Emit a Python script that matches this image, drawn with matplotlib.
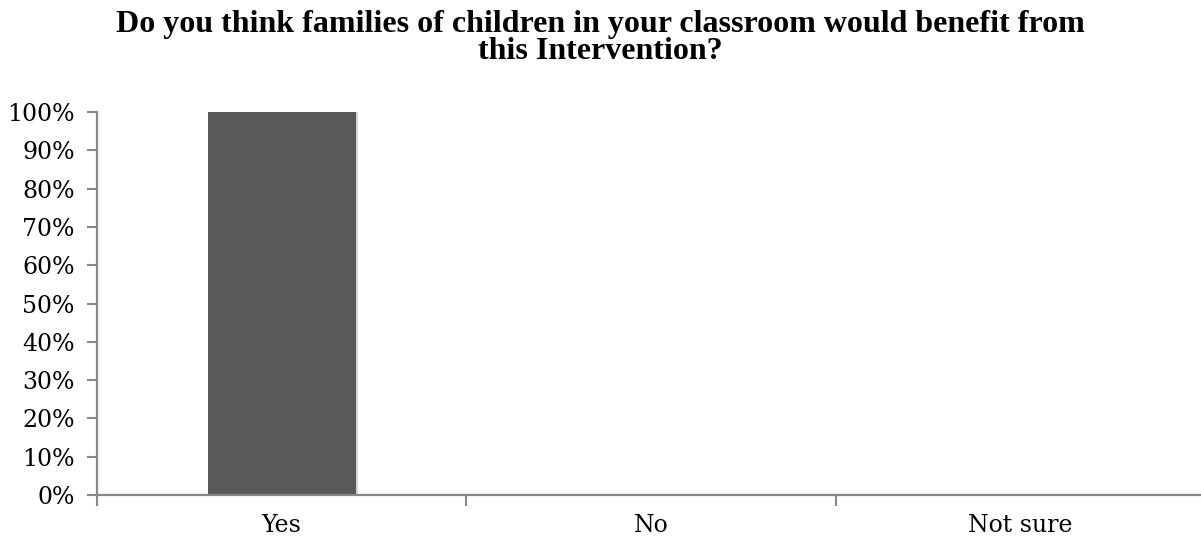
import matplotlib
matplotlib.use("Agg")
import matplotlib.pyplot as plt
from matplotlib.ticker import FixedLocator, PercentFormatter

categories = ["Yes", "No", "Not sure"]
values = [1.0, 0.0, 0.0]
yticks = [0, 0.1, 0.2, 0.3, 0.4, 0.5, 0.6, 0.7, 0.8, 0.9, 1.0]
title = "Do you think families of children in your classroom would benefit from\nthis Intervention?"

W, H = 1201, 539
fig = plt.figure(figsize=(W / 100, H / 100), dpi=100)
left, right, bottom, top = 97, 1205, 495, 112
ax = fig.add_axes([left / W, 1 - bottom / H, (right - left) / W, (bottom - top) / H])

x = list(range(len(categories)))
gray = "#888888"
# shadow
ax.bar([i + 0.008 for i in x], values, width=0.40, color="#d8d8d8", zorder=1)
ax.bar(x, values, width=0.40, color="#595959", zorder=2)

ax.set_xlim(-0.5, 2.5)
ax.set_ylim(0, 1.0)
ax.yaxis.set_major_locator(FixedLocator(yticks))
ax.yaxis.set_major_formatter(PercentFormatter(1.0, decimals=0))
ax.set_xticks(x)
ax.set_xticklabels(categories)
ax.xaxis.set_minor_locator(FixedLocator([-0.5, 0.5, 1.5, 2.5]))
ax.tick_params(axis="x", which="major", length=0, pad=14)
ax.tick_params(axis="x", which="minor", length=8, width=1.5, color=gray)
ax.tick_params(axis="y", length=7, width=1.5, color=gray, pad=9)

for s in ["top", "right"]:
    ax.spines[s].set_visible(False)
for s in ["left", "bottom"]:
    ax.spines[s].set_color(gray)
    ax.spines[s].set_linewidth(1.6)

for lab in ax.get_xticklabels() + ax.get_yticklabels():
    lab.set_fontfamily("DejaVu Serif")
    lab.set_fontsize(17)
    lab.set_color("black")

fig.text(0.5, 1 - 10 / H, title, ha="center", va="top", fontsize=23,
         fontweight="bold", family="Liberation Serif", linespacing=0.92)

fig.savefig("out.png", dpi=100)
